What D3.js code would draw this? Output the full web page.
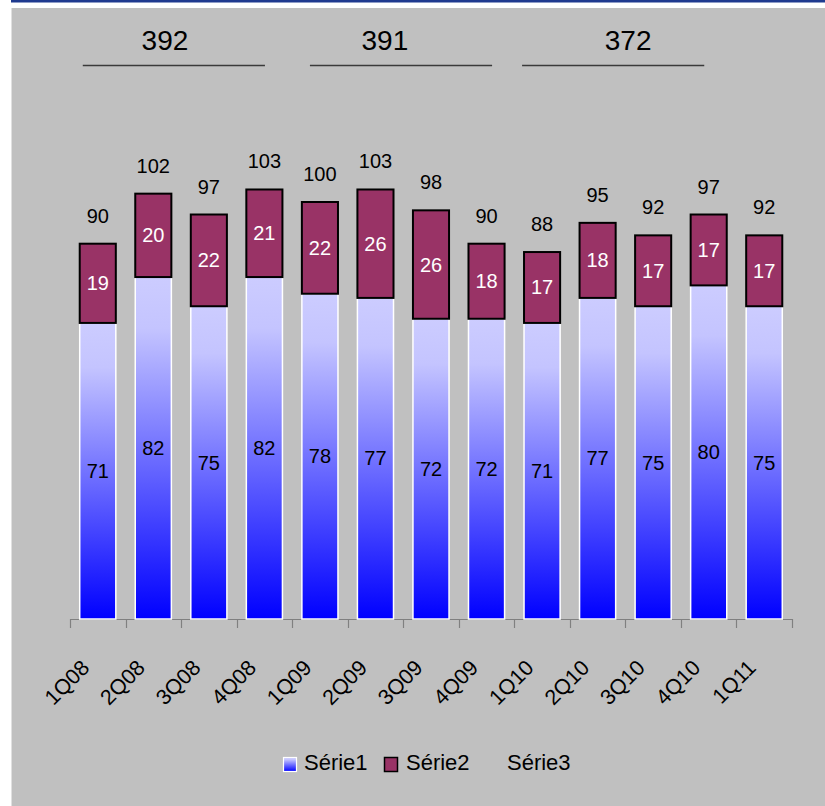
<!DOCTYPE html>
<html>
<head>
<meta charset="utf-8">
<script src="https://cdn.jsdelivr.net/npm/d3@7"></script>
<style>
html,body{margin:0;padding:0;background:#fff;}
svg{display:block;font-family:"Liberation Sans",Arial,sans-serif;}
</style>
</head>
<body>
<svg id="chart" width="825" height="806"></svg>
<script>
// ---- data ----
const categories = ["1Q08","2Q08","3Q08","4Q08","1Q09","2Q09","3Q09","4Q09","1Q10","2Q10","3Q10","4Q10","1Q11"];
const serie1 = [71,82,75,82,78,77,72,72,71,77,75,80,75];
const serie2 = [19,20,22,21,22,26,26,18,17,18,17,17,17];
const totals = [90,102,97,103,100,103,98,90,88,95,92,97,92];
const groupTotals = [392,391,372];
// group annotation extents, in category-index units along the axis
const groupLineFrom = [0.23,4.32,8.14];
const groupLineTo = [3.51,7.60,11.42];
const groupLabelAt = [1.71,5.67,10.05];
const legendLabels = ["Série1","Série2","Série3"];

// ---- layout ----
const svg = d3.select("#chart");
const W = 825, H = 806;
const axisY = 619;

svg.append("rect").attr("x",12).attr("y",8).attr("width",W-12).attr("height",H-8).attr("fill","#c0c0c0");
svg.append("rect").attr("x",11).attr("y",0).attr("width",W-11).attr("height",2.5).attr("fill","#1f3a8f");
svg.append("line").attr("x1",11.5).attr("x2",11.5).attr("y1",8).attr("y2",H).attr("stroke","#e0e0e0").attr("stroke-width",1);

const x = d3.scaleBand().domain(categories).range([70,792]).paddingInner(0.35).paddingOuter(0.175);
const xi = d3.scaleLinear().domain([0,categories.length]).range([70,792]);
const y = d3.scaleLinear().domain([0,120]).range([axisY,axisY-500.4]);

const defs = svg.append("defs");
const grad = defs.append("linearGradient").attr("id","g1").attr("x1",0).attr("y1",0).attr("x2",0).attr("y2",1);
grad.append("stop").attr("offset","0%").attr("stop-color","#ccccff");
grad.append("stop").attr("offset","15%").attr("stop-color","#c4c4ff");
grad.append("stop").attr("offset","100%").attr("stop-color","#0000ff");

// axis line and ticks
const ag = svg.append("g");
ag.append("line").attr("x1",70).attr("x2",792).attr("y1",axisY+0.5).attr("y2",axisY+0.5).attr("stroke","#808080").attr("stroke-width",1.2);
ag.selectAll("line.tick").data(d3.range(categories.length+1)).join("line")
  .attr("class","tick")
  .attr("x1",d=>Math.round(xi(d))+0.5).attr("x2",d=>Math.round(xi(d))+0.5)
  .attr("y1",axisY).attr("y2",axisY+9).attr("stroke","#808080").attr("stroke-width",1.2);

// bars
const bw = x.bandwidth();
const bars = svg.append("g");
bars.selectAll("rect.s1").data(categories).join("rect")
  .attr("class","s1")
  .attr("x",d=>x(d)).attr("width",bw)
  .attr("y",(d,i)=>y(serie1[i])).attr("height",(d,i)=>y(0)-y(serie1[i]))
  .attr("fill","url(#g1)").attr("stroke","#ffffff").attr("stroke-width",1.5);
bars.selectAll("rect.s2").data(categories).join("rect")
  .attr("class","s2")
  .attr("x",d=>x(d)).attr("width",bw)
  .attr("y",(d,i)=>y(serie1[i]+serie2[i])).attr("height",(d,i)=>y(serie1[i])-y(serie1[i]+serie2[i]))
  .attr("fill","#993366").attr("stroke","#000000").attr("stroke-width",2);

// labels
const fs = 20;
const lab = svg.append("g").attr("text-anchor","middle").attr("font-size",fs);
lab.selectAll("text.l1").data(categories).join("text")
  .attr("x",d=>x(d)+bw/2).attr("y",(d,i)=>y(serie1[i]/2)+7)
  .attr("fill","#000").text((d,i)=>serie1[i]);
lab.selectAll("text.l2").data(categories).join("text")
  .attr("x",d=>x(d)+bw/2).attr("y",(d,i)=>y(serie1[i]+serie2[i]/2)+7)
  .attr("fill","#fff").text((d,i)=>serie2[i]);
lab.selectAll("text.lt").data(categories).join("text")
  .attr("x",d=>x(d)+bw/2).attr("y",(d,i)=>y(totals[i])-21)
  .attr("fill","#000").text((d,i)=>totals[i]);

// category labels
svg.append("g").selectAll("text").data(categories).join("text")
  .attr("transform",d=>`translate(${x(d)+bw/2-7},${axisY+50}) rotate(-45)`)
  .attr("text-anchor","end").attr("font-size",21.5).attr("fill","#000").text(d=>d);

// group annotations
const gg = svg.append("g");
gg.selectAll("line").data(groupTotals).join("line")
  .attr("x1",(d,i)=>xi(groupLineFrom[i])).attr("x2",(d,i)=>xi(groupLineTo[i]))
  .attr("y1",65.5).attr("y2",65.5).attr("stroke","#3a3a3a").attr("stroke-width",1.4);
gg.selectAll("text").data(groupTotals).join("text")
  .attr("x",(d,i)=>xi(groupLabelAt[i])).attr("y",50)
  .attr("text-anchor","middle").attr("font-size",28).attr("fill","#000").text(d=>d);

// legend
const lg = svg.append("g").attr("font-size",22);
lg.append("rect").attr("x",283.5).attr("y",757.5).attr("width",13).attr("height",14).attr("fill","url(#g1)").attr("stroke","#fff").attr("stroke-width",1.2);
lg.append("text").attr("x",304).attr("y",770).text(legendLabels[0]);
lg.append("rect").attr("x",384.5).attr("y",757.5).attr("width",13).attr("height",14).attr("fill","#993366").attr("stroke","#000").attr("stroke-width",1.5);
lg.append("text").attr("x",406).attr("y",770).text(legendLabels[1]);
lg.append("text").attr("x",507).attr("y",770).text(legendLabels[2]);
</script>
</body>
</html>
